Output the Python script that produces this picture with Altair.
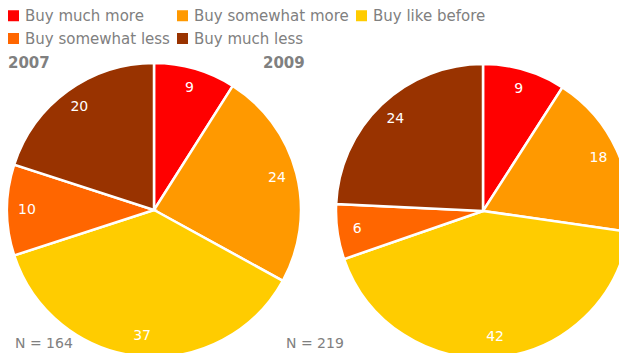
import altair as alt
import pandas as pd

FONT = "DejaVu Sans"
GREY = "#808080"

categories = ["Buy much more", "Buy somewhat more", "Buy like before",
              "Buy somewhat less", "Buy much less"]
colors = ["#FF0000", "#FF9900", "#FFCC00", "#FF6600", "#993300"]
values_2007 = [9, 24, 37, 10, 20]
values_2009 = [9, 18, 42, 6, 24]
years = ["2007", "2009"]
sample_sizes = ["N = 164", "N = 219"]

color = alt.Color(
    "category:N",
    scale=alt.Scale(domain=categories, range=colors),
    legend=alt.Legend(title=None, orient="none", legendX=-2, legendY=0,
                      columns=3, direction="horizontal"),
)


def pie(vals, cx, cy, r, lr):
    df = pd.DataFrame({"category": categories, "value": vals,
                       "order": list(range(len(categories)))})
    base = alt.Chart(df).encode(
        theta=alt.Theta("value:Q", stack="normalize"),
        order=alt.Order("order:Q"),
    )
    arc = base.mark_arc(radius=r, stroke="white", strokeWidth=2.5, clip=True).encode(
        color=color, x=alt.value(cx), y=alt.value(cy))
    txt = base.mark_text(radius=lr, fontSize=14, font=FONT, color="white").encode(
        text="value:Q", x=alt.value(cx), y=alt.value(cy))
    return arc + txt


def label(txt, x, y, size, bold=False):
    return alt.Chart(pd.DataFrame({"t": [txt]})).mark_text(
        align="left", baseline="alphabetic", fontSize=size, font=FONT,
        fontWeight="bold" if bold else "normal", color=GREY,
    ).encode(text="t:N", x=alt.value(x), y=alt.value(y))


chart = alt.layer(
    pie(values_2007, 146, 202, 147, 127),
    pie(values_2009, 475, 203, 147, 127),
    label(years[0], 0, 60, 15, True),
    label(years[1], 255, 60, 15, True),
    label(sample_sizes[0], 7, 340, 14),
    label(sample_sizes[1], 278, 340, 14),
).properties(
    width=611, height=345, padding=0,
    autosize=alt.AutoSizeParams(type="none"),
).configure_view(stroke=None).configure_legend(
    symbolType="square", symbolSize=121, symbolStrokeWidth=0,
    labelFont=FONT, labelFontSize=15, labelColor=GREY,
    columnPadding=5, rowPadding=7, labelOffset=4, labelLimit=300,
)

chart.save("out.html", embed_options={"renderer": "svg", "actions": False})
